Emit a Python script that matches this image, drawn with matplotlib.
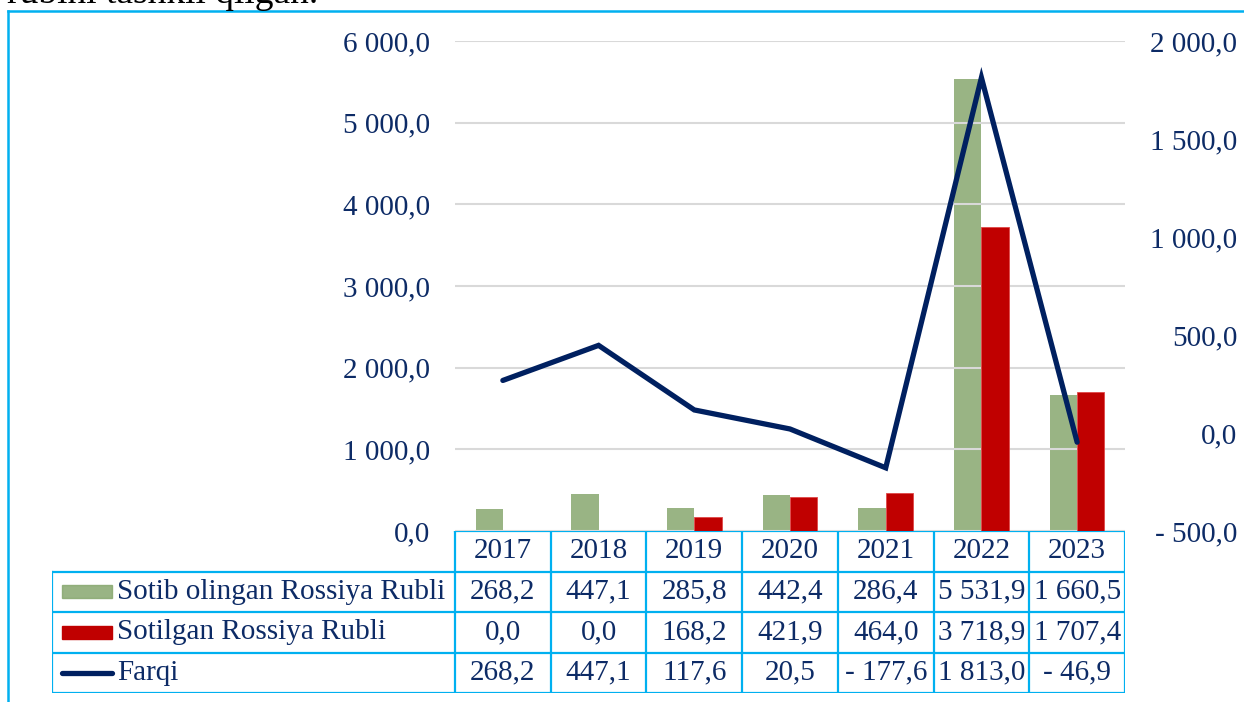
import matplotlib.pyplot as plt
from matplotlib.patches import Rectangle
from matplotlib.lines import Line2D

years = ['2017', '2018', '2019', '2020', '2021', '2022', '2023']
bought = [268.2, 447.1, 285.8, 442.4, 286.4, 5531.9, 1660.5]
sold = [0.0, 0.0, 168.2, 421.9, 464.0, 3718.9, 1707.4]
diff = [268.2, 447.1, 117.6, 20.5, -177.6, 1813.0, -46.9]
series_names = ['Sotib olingan Rossiya Rubli', 'Sotilgan Rossiya Rubli', 'Farqi']
left_ticks = [0, 1000, 2000, 3000, 4000, 5000, 6000]
right_ticks = [-500, 0, 500, 1000, 1500, 2000]

GREEN = '#87A76E'
RED = '#C00000'
NAVY = '#002060'
TXT = '#0D2B66'
CYAN = '#00B0F0'
FS = 21

plt.rcParams['font.family'] = ['Liberation Serif', 'DejaVu Serif']


def fmt(v):
    s = '{:,.1f}'.format(abs(v)).replace(',', ' ').replace('.', ',')
    return '- ' + s if v < 0 else s


W, H = 1244, 702
fig = plt.figure(figsize=(W / 100, H / 100), dpi=100)

# chart frame (runs off the right and bottom of the picture)
fig.add_artist(Line2D([8 / W, 1.0], [1 - 11 / H, 1 - 11 / H], color=CYAN, lw=1.8))
fig.add_artist(Line2D([8 / W, 8 / W], [0, 1 - 11 / H], color=CYAN, lw=1.8))
# sentence above the chart, cut off by the page edge as in the source
fig.text(7 / W, 1 - 3 / H, 'rubini tashkil qilgan.', fontsize=27, color='black',
         va='baseline', ha='left')

x0, x1, ytop, ybot = 455, 1125, 41, 531
ax = fig.add_axes([x0 / W, 1 - ybot / H, (x1 - x0) / W, (ybot - ytop) / H])
ax2 = ax.twinx()

n = len(years)
xs = list(range(n))
bw = 0.285
ax.bar([x - bw / 2 for x in xs], bought, bw, color=GREEN, alpha=0.85, zorder=1)
ax.bar([x + bw / 2 for x in xs], sold, bw, color=RED, edgecolor='#E04848', lw=0.6, zorder=3)
ax.set_ylim(0, 6000)
ax.set_xlim(-0.5, n - 0.5)
ax.set_yticks(left_ticks)
ax.set_yticklabels([fmt(v) for v in left_ticks])
ax.set_xticks([])
ax.grid(axis='y', color='#D9D9D9', lw=1.5, zorder=2)
ax.set_axisbelow(False)
ax.tick_params(axis='y', length=0, pad=18, labelsize=FS, labelcolor=TXT)
for sp in ax.spines.values():
    sp.set_visible(False)

ax2.plot(xs, diff, color=NAVY, lw=3.8, solid_joinstyle='miter', solid_capstyle='round', zorder=5)
ax2.set_ylim(-500, 2000)
ax2.set_yticks(right_ticks)
ax2.set_yticklabels([fmt(v) for v in right_ticks])
ax2.tick_params(axis='y', length=0, pad=81, labelsize=FS, labelcolor=TXT)
for lab in ax2.get_yticklabels():
    lab.set_ha('right')
for sp in ax2.spines.values():
    sp.set_visible(False)

# data table under the chart
tl, tb = 52, 693
unit = (x1 - x0) / n
xl = -0.5 - (x0 - tl) / unit
tab = fig.add_axes([tl / W, 1 - tb / H, (x1 - tl) / W, (tb - ybot) / H])
tab.set_xlim(xl, n - 0.5)
tab.set_ylim(4, 0)
tab.axis('off')

lkw = dict(color=CYAN, lw=1.6, solid_capstyle='projecting')
tab.plot([-0.5, n - 0.5], [0, 0], **lkw)
for r in range(1, 5):
    tab.plot([xl, n - 0.5], [r, r], **lkw)
tab.plot([xl, xl], [1, 4], **lkw)
for i in range(n + 1):
    tab.plot([i - 0.5, i - 0.5], [0, 4], **lkw)

for i, yr in enumerate(years):
    tab.text(i, 0.5, yr, ha='center', va='center', fontsize=FS, color=TXT)
rows = [bought, sold, diff]
for r, vals in enumerate(rows):
    for i, v in enumerate(vals):
        tab.text(i, r + 1.5, fmt(v), ha='center', va='center', fontsize=FS, color=TXT)

kx = xl + 10 / unit
kw = 50 / unit
tab.add_patch(Rectangle((kx, 1.5 - 0.16), kw, 0.32, color=GREEN, alpha=0.85))
tab.add_patch(Rectangle((kx, 2.5 - 0.16), kw, 0.32, color=RED))
tab.plot([kx, kx + kw], [3.5, 3.5], color=NAVY, lw=3.8, solid_capstyle='round')
for r, name in enumerate(series_names):
    tab.text(kx + kw + 5 / unit, r + 1.5, name, ha='left', va='center', fontsize=FS, color=TXT)

fig.savefig('out.png', dpi=100)
